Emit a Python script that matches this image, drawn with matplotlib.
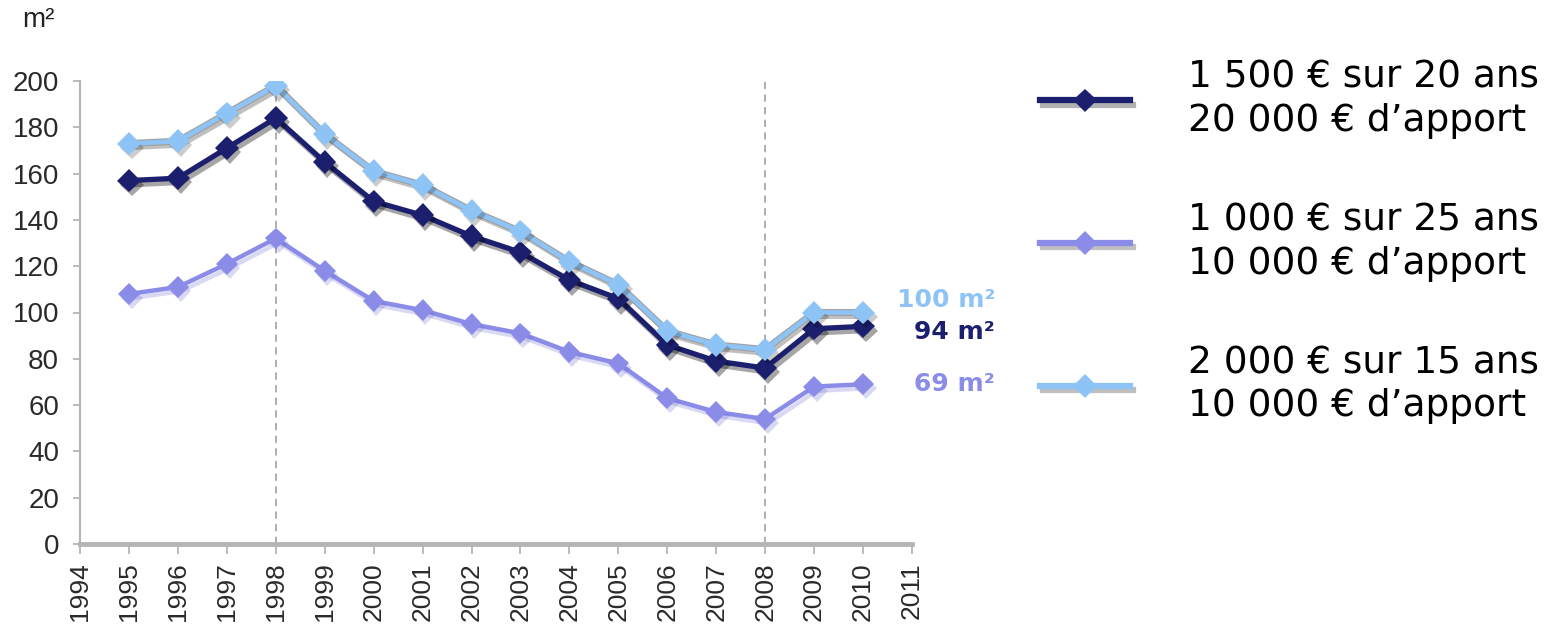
import matplotlib
matplotlib.use("Agg")
import matplotlib.pyplot as plt
import matplotlib.patheffects as pe
from matplotlib.lines import Line2D

# Surface habitable (m²) achetable selon le profil d'emprunt
years = [1995, 1996, 1997, 1998, 1999, 2000, 2001, 2002, 2003, 2004,
         2005, 2006, 2007, 2008, 2009, 2010]
m2_1500_20 = [157, 158, 171, 184, 165, 148, 142, 133, 126, 114,
              106, 86, 79, 76, 93, 94]
m2_1000_25 = [108, 111, 121, 132, 118, 105, 101, 95, 91, 83,
              78, 63, 57, 54, 68, 69]
m2_2000_15 = [173, 174, 186, 198, 177, 161, 155, 144, 135, 122,
              112, 92, 86, 84, 100, 100]

labels = ["1 500 € sur 20 ans\n20 000 € d’apport",
          "1 000 € sur 25 ans\n10 000 € d’apport",
          "2 000 € sur 15 ans\n10 000 € d’apport"]
year_ticks = list(range(1994, 2012))
y_ticks = list(range(0, 201, 20))
marked_years = [1998, 2008]

c_dark = "#1c1f6e"
c_purple = "#8b8be8"
c_light = "#8ec4f5"
c_axis = "#b5b5b5"

fig = plt.figure(figsize=(15.56, 6.30), dpi=100)
ax = fig.add_axes([80 / 1556, 1 - 544 / 630, (912 - 80) / 1556, (544 - 81) / 630])

for yr in marked_years:
    ax.plot([yr, yr], [0, 201], color="#a8a8a8", lw=1.3, ls=(0, (4, 3)),
            zorder=1, clip_on=False)


def line_shadow(color="#000000", alpha=0.3, extra=None):
    effects = [pe.SimpleLineShadow(offset=(2, -3), shadow_color=color, alpha=alpha, rho=0.4)]
    if extra:
        effects += extra
    return effects + [pe.Normal()]


def marker_shadow(color="#000000", alpha=0.3):
    return [pe.SimplePatchShadow(offset=(2, -3), shadow_rgbFace=color, alpha=alpha),
            pe.Normal()]


def draw_series(values, color, lw, ms, z, line_fx, mark_fx):
    ax.plot(years, values, color=color, lw=lw, zorder=z, path_effects=line_fx,
            solid_joinstyle="round")
    ax.plot(years, values, ls="none", marker="D", ms=ms, color=color,
            markeredgewidth=0, zorder=z + 0.5, path_effects=mark_fx)


draw_series(m2_1000_25, c_purple, 3.2, 11, 3,
            line_shadow("#6a6ad0", 0.25), marker_shadow("#6a6ad0", 0.25))
draw_series(m2_1500_20, c_dark, 3.8, 12, 5,
            line_shadow("#000000", 0.35), marker_shadow("#000000", 0.35))
draw_series(m2_2000_15, c_light, 3.4, 12, 7,
            line_shadow("#000000", 0.25, [pe.Stroke(linewidth=5.0, foreground="#a0a0a0")]),
            marker_shadow("#000000", 0.2))

ax.set_xlim(1994, 2011)
ax.set_ylim(0, 200)
ax.set_xticks(year_ticks)
ax.set_xticklabels([str(y) for y in year_ticks], rotation=90,
                   family="Liberation Sans", fontsize=19, color="#2a2a2a")
ax.set_yticks(y_ticks)
ax.set_yticklabels([str(v) for v in y_ticks], family="Liberation Sans",
                   fontsize=20, color="#2a2a2a")
for s in ["top", "right"]:
    ax.spines[s].set_visible(False)
ax.spines["left"].set_color(c_axis)
ax.spines["left"].set_linewidth(1.5)
ax.spines["bottom"].set_color(c_axis)
ax.spines["bottom"].set_linewidth(3.5)
ax.tick_params(axis="x", direction="out", length=7, width=1.3, color=c_axis, pad=6)
ax.tick_params(axis="y", direction="out", length=5, width=1.3, color=c_axis, pad=10)

fig.text(22 / 1556, 1 - 20 / 630, "m²", family="Liberation Sans", fontsize=20,
         va="center", ha="left", color="#222222")

# Valeurs finales annotées à droite de chaque courbe
end_x = 2012.7
end_style = dict(textcoords="offset points", ha="right", va="center",
                 fontsize=18, fontweight="bold", family="DejaVu Sans",
                 annotation_clip=False)
ax.annotate(f"{m2_2000_15[-1]} m²", (end_x, m2_2000_15[-1]), xytext=(0, 9),
            color=c_light, **end_style)
ax.annotate(f"{m2_1500_20[-1]} m²", (end_x, m2_1500_20[-1]), xytext=(0, -4),
            color=c_dark, **end_style)
ax.annotate(f"{m2_1000_25[-1]} m²", (end_x, m2_1000_25[-1]), xytext=(0, 0),
            color=c_purple, **end_style)

leg_handles = [
    Line2D([], [], color=c_dark, lw=4.5, marker="D", ms=12, markeredgewidth=0,
           path_effects=line_shadow("#000000", 0.3)),
    Line2D([], [], color=c_purple, lw=4.5, marker="D", ms=12, markeredgewidth=0,
           path_effects=line_shadow("#000000", 0.25)),
    Line2D([], [], color=c_light, lw=4.5, marker="D", ms=12, markeredgewidth=0,
           path_effects=line_shadow("#000000", 0.25)),
]
leg = fig.legend(leg_handles, labels, loc="upper left",
                 bbox_to_anchor=(1040 / 1556, 1 - 60 / 630), frameon=False,
                 prop={"family": "DejaVu Sans", "size": 27}, handlelength=2.4,
                 handletextpad=1.55, labelspacing=1.7, numpoints=1,
                 borderpad=0, borderaxespad=0)
for t in leg.get_texts():
    t.set_linespacing(1.25)

fig.savefig("out.png", dpi=100, facecolor="white")
